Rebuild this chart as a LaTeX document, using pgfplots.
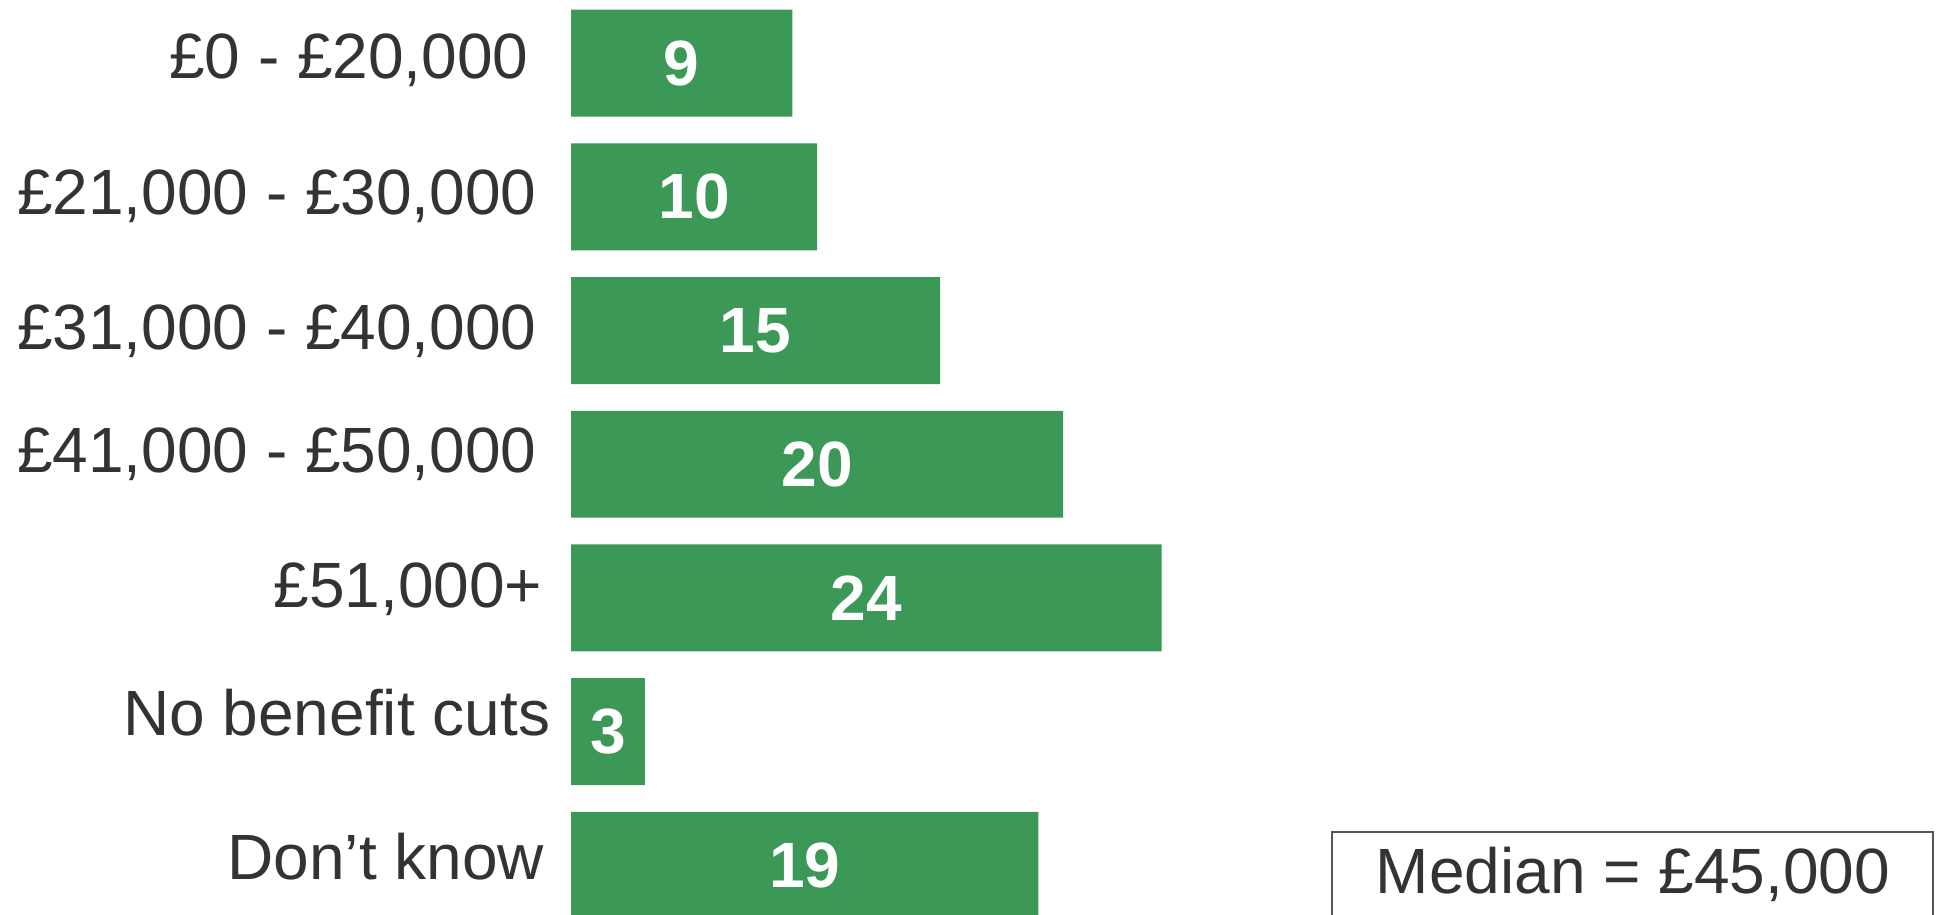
\documentclass[border=0pt]{standalone}
\usepackage{fontspec}
\setmainfont{Liberation Sans}
\usepackage{pgfplots}
\pgfplotsset{compat=1.18}
\definecolor{barGreen}{HTML}{3C9856}
\definecolor{txt}{HTML}{333333}
\definecolor{boxLine}{HTML}{555555}
\newcommand{\lab}[3]{\raisebox{-#1pt}{#3}\hspace*{#2pt}}
\begin{document}
\begin{tikzpicture}
\useasboundingbox (0,0) rectangle (484.75pt,228.5pt);
\begin{axis}[
  at={(142.75pt,0pt)}, anchor=south west,
  scale only axis, width=342pt, height=228.5pt,
  xmin=0, xmax=55.6, ymin=-0.472, ymax=6.364, y dir=reverse,
  xbar, bar width=0.8, bar shift=0pt,
  axis line style={draw=none}, major tick length=0pt,
  xtick=\empty, ytick={0,...,6},
  yticklabels={
    \lab{3.75}{10.4}{£0 - £20,000},
    \lab{4.5}{8.4}{£21,000 - £30,000},
    \lab{4.75}{8.4}{£31,000 - £40,000},
    \lab{2}{8.4}{£41,000 - £50,000},
    \lab{2.5}{7}{£51,000+},
    \lab{1}{5}{No benefit cuts},
    \lab{3.5}{6.5}{Don’t know}},
  yticklabel style={anchor=base east, inner sep=0pt, font=\fontsize{16}{19}\selectfont, text=txt},
  /pgf/number format/assume math mode=true,
  point meta=x,
  visualization depends on=rawx \as \rawx,
  nodes near coords={\bfseries\pgfmathprintnumber{\pgfplotspointmeta}},
  every node near coord/.append style={anchor=center, text=white, inner sep=0pt,
    font=\fontsize{16}{19}\selectfont\bfseries,
    shift={(axis direction cs:-\rawx/2,0)}},
]
\addplot[fill=barGreen, draw=none]
  coordinates {(9,0) (10,1) (15,2) (20,3) (24,4) (3,5) (19,6)};
\end{axis}
\draw[boxLine, line width=0.4pt] (333pt,-10pt) rectangle (483.25pt,20.5pt);
\node[anchor=base, inner sep=0pt, text=txt, font=\fontsize{16}{19}\selectfont]
  at (408.25pt,5.25pt) {Median = £45,000};
\end{tikzpicture}
\end{document}
